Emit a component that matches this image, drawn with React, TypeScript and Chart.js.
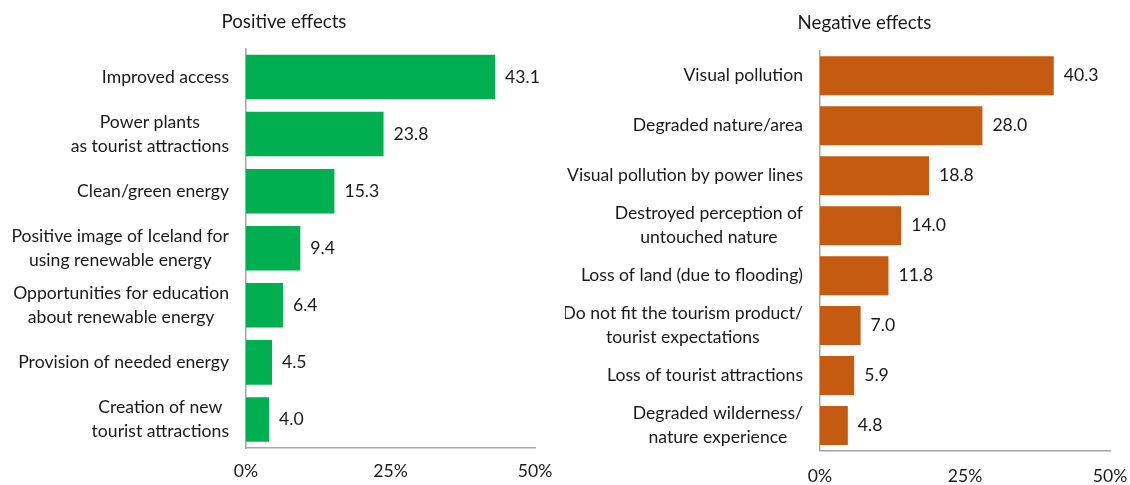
import React, { useEffect, useRef } from "react";
import { Chart, registerables } from "chart.js";

Chart.register(...registerables);

// ---- Data ----
const positiveTitle = "Positive effects";
const positiveLabels: (string | string[])[] = [
  "Improved access",
  ["Power plants", "as tourist attractions"],
  "Clean/green energy",
  ["Positive image of Iceland for", "using renewable energy"],
  ["Opportunities for education", "about renewable energy"],
  "Provision of needed energy",
  ["Creation of new", "tourist attractions"],
];
const positiveValues = [43.1, 23.8, 15.3, 9.4, 6.4, 4.5, 4.0];

const negativeTitle = "Negative effects";
const negativeLabels: (string | string[])[] = [
  "Visual pollution",
  "Degraded nature/area",
  "Visual pollution by power lines",
  ["Destroyed perception of", "untouched nature"],
  "Loss of land (due to flooding)",
  ["Do not fit the tourism product/", "tourist expectations"],
  "Loss of tourist attractions",
  ["Degraded wilderness/", "nature experience"],
];
const negativeValues = [40.3, 28.0, 18.8, 14.0, 11.8, 7.0, 5.9, 4.8];

const xTickValues = [0, 25, 50];

// ---- Styles ----
const FONT = "Lato";
const FS = 17.6;
const TITLE_FS = 18.7;
const LINE_H = 24;
const TEXT = "#1a1a1a";
const AXIS = "#a6a6a6";
const GREEN = "#00B050";
const ORANGE = "#C55A11";
const TICK_PAD = 17;

type Geom = {
  padLeft: number;
  padRight: number;
  yWidth: number;
  xHeight: number;
  xLabelGap: number;
  titleTop: number;
  titleBottom: number;
};

const labelPlugin = {
  id: "customLabels",
  afterDraw(chart: any) {
    const ctx = chart.ctx;
    const yScale = chart.scales.y;
    const labels = chart.data.labels as (string | string[])[];
    ctx.save();
    ctx.font = `${FS}px ${FONT}`;
    ctx.fillStyle = TEXT;
    ctx.textBaseline = "middle";
    ctx.textAlign = "center";
    const rightX = yScale.right - TICK_PAD;
    labels.forEach((lab, i) => {
      const lines = Array.isArray(lab) ? lab : [lab];
      const w = Math.max(...lines.map((l) => ctx.measureText(l).width));
      const cx = rightX - w / 2;
      const yc = yScale.getPixelForValue(i);
      lines.forEach((line, j) => {
        ctx.fillText(line, cx, yc + (j - (lines.length - 1) / 2) * LINE_H);
      });
    });
    // value labels
    const meta = chart.getDatasetMeta(0);
    const values = chart.data.datasets[0].data as number[];
    ctx.textAlign = "left";
    meta.data.forEach((el: any, i: number) => {
      ctx.fillText(values[i].toFixed(1), el.x + 10, el.y);
    });
    ctx.restore();
  },
};

function makeConfig(
  labels: (string | string[])[],
  values: number[],
  color: string,
  title: string,
  g: Geom
): any {
  return {
    type: "bar",
    data: {
      labels,
      datasets: [
        {
          data: values,
          backgroundColor: color,
          borderWidth: 0,
          categoryPercentage: 1,
          barPercentage: 0.78,
        },
      ],
    },
    options: {
      indexAxis: "y",
      animation: false,
      responsive: false,
      devicePixelRatio: 1,
      layout: {
        padding: { left: g.padLeft, right: g.padRight, top: 0, bottom: 0 },
      },
      plugins: {
        legend: { display: false },
        tooltip: { enabled: false },
        title: {
          display: true,
          text: title,
          color: TEXT,
          font: { family: FONT, size: TITLE_FS, weight: "normal", lineHeight: 1.2 },
          padding: { top: g.titleTop, bottom: g.titleBottom },
        },
      },
      scales: {
        x: {
          type: "linear",
          min: xTickValues[0],
          max: xTickValues[xTickValues.length - 1],
          afterBuildTicks: (scale: any) => {
            scale.ticks = xTickValues.map((v) => ({ value: v }));
          },
          afterFit: (scale: any) => {
            scale.height = g.xHeight;
          },
          grid: { display: false, drawTicks: true, tickLength: g.xLabelGap },
          border: { display: true, color: AXIS, width: 1.5 },
          ticks: {
            color: TEXT,
            font: { family: FONT, size: FS },
            padding: 0,
            maxRotation: 0,
            callback: (v: any) => `${v}%`,
          },
        },
        y: {
          type: "category",
          afterFit: (scale: any) => {
            scale.width = g.yWidth;
          },
          grid: { display: false, drawTicks: false },
          border: { display: true, color: AXIS, width: 1.5 },
          ticks: { display: false, autoSkip: false },
        },
      },
    },
    plugins: [labelPlugin],
  };
}

function BarPanel(props: {
  labels: (string | string[])[];
  values: number[];
  color: string;
  title: string;
  geom: Geom;
  left: number;
  width: number;
  height: number;
}) {
  const ref = useRef<HTMLCanvasElement | null>(null);
  useEffect(() => {
    if (!ref.current) return;
    const chart = new Chart(
      ref.current,
      makeConfig(props.labels, props.values, props.color, props.title, props.geom)
    );
    return () => chart.destroy();
  }, []);
  return (
    <div
      style={{
        position: "absolute",
        left: props.left,
        top: 0,
        width: props.width,
        height: props.height,
      }}
    >
      <canvas
        ref={ref}
        width={props.width}
        height={props.height}
        style={{ display: "block", width: props.width, height: props.height }}
      />
    </div>
  );
}

export default function App() {
  return (
    <div
      style={{
        position: "fixed",
        left: 0,
        top: 0,
        width: 1130,
        height: 485,
        background: "#ffffff",
        overflow: "hidden",
      }}
    >
      <BarPanel
        labels={positiveLabels}
        values={positiveValues}
        color={GREEN}
        title={positiveTitle}
        left={0}
        width={565}
        height={485}
        geom={{ padLeft: 33, padRight: 30, yWidth: 213, xHeight: 37, xLabelGap: 13, titleTop: 11, titleBottom: 15 }}
      />
      <BarPanel
        labels={negativeLabels}
        values={negativeValues}
        color={ORANGE}
        title={negativeTitle}
        left={565}
        width={565}
        height={485}
        geom={{ padLeft: 54, padRight: 20, yWidth: 201, xHeight: 34.5, xLabelGap: 15, titleTop: 12, titleBottom: 16.4 }}
      />
    </div>
  );
}
